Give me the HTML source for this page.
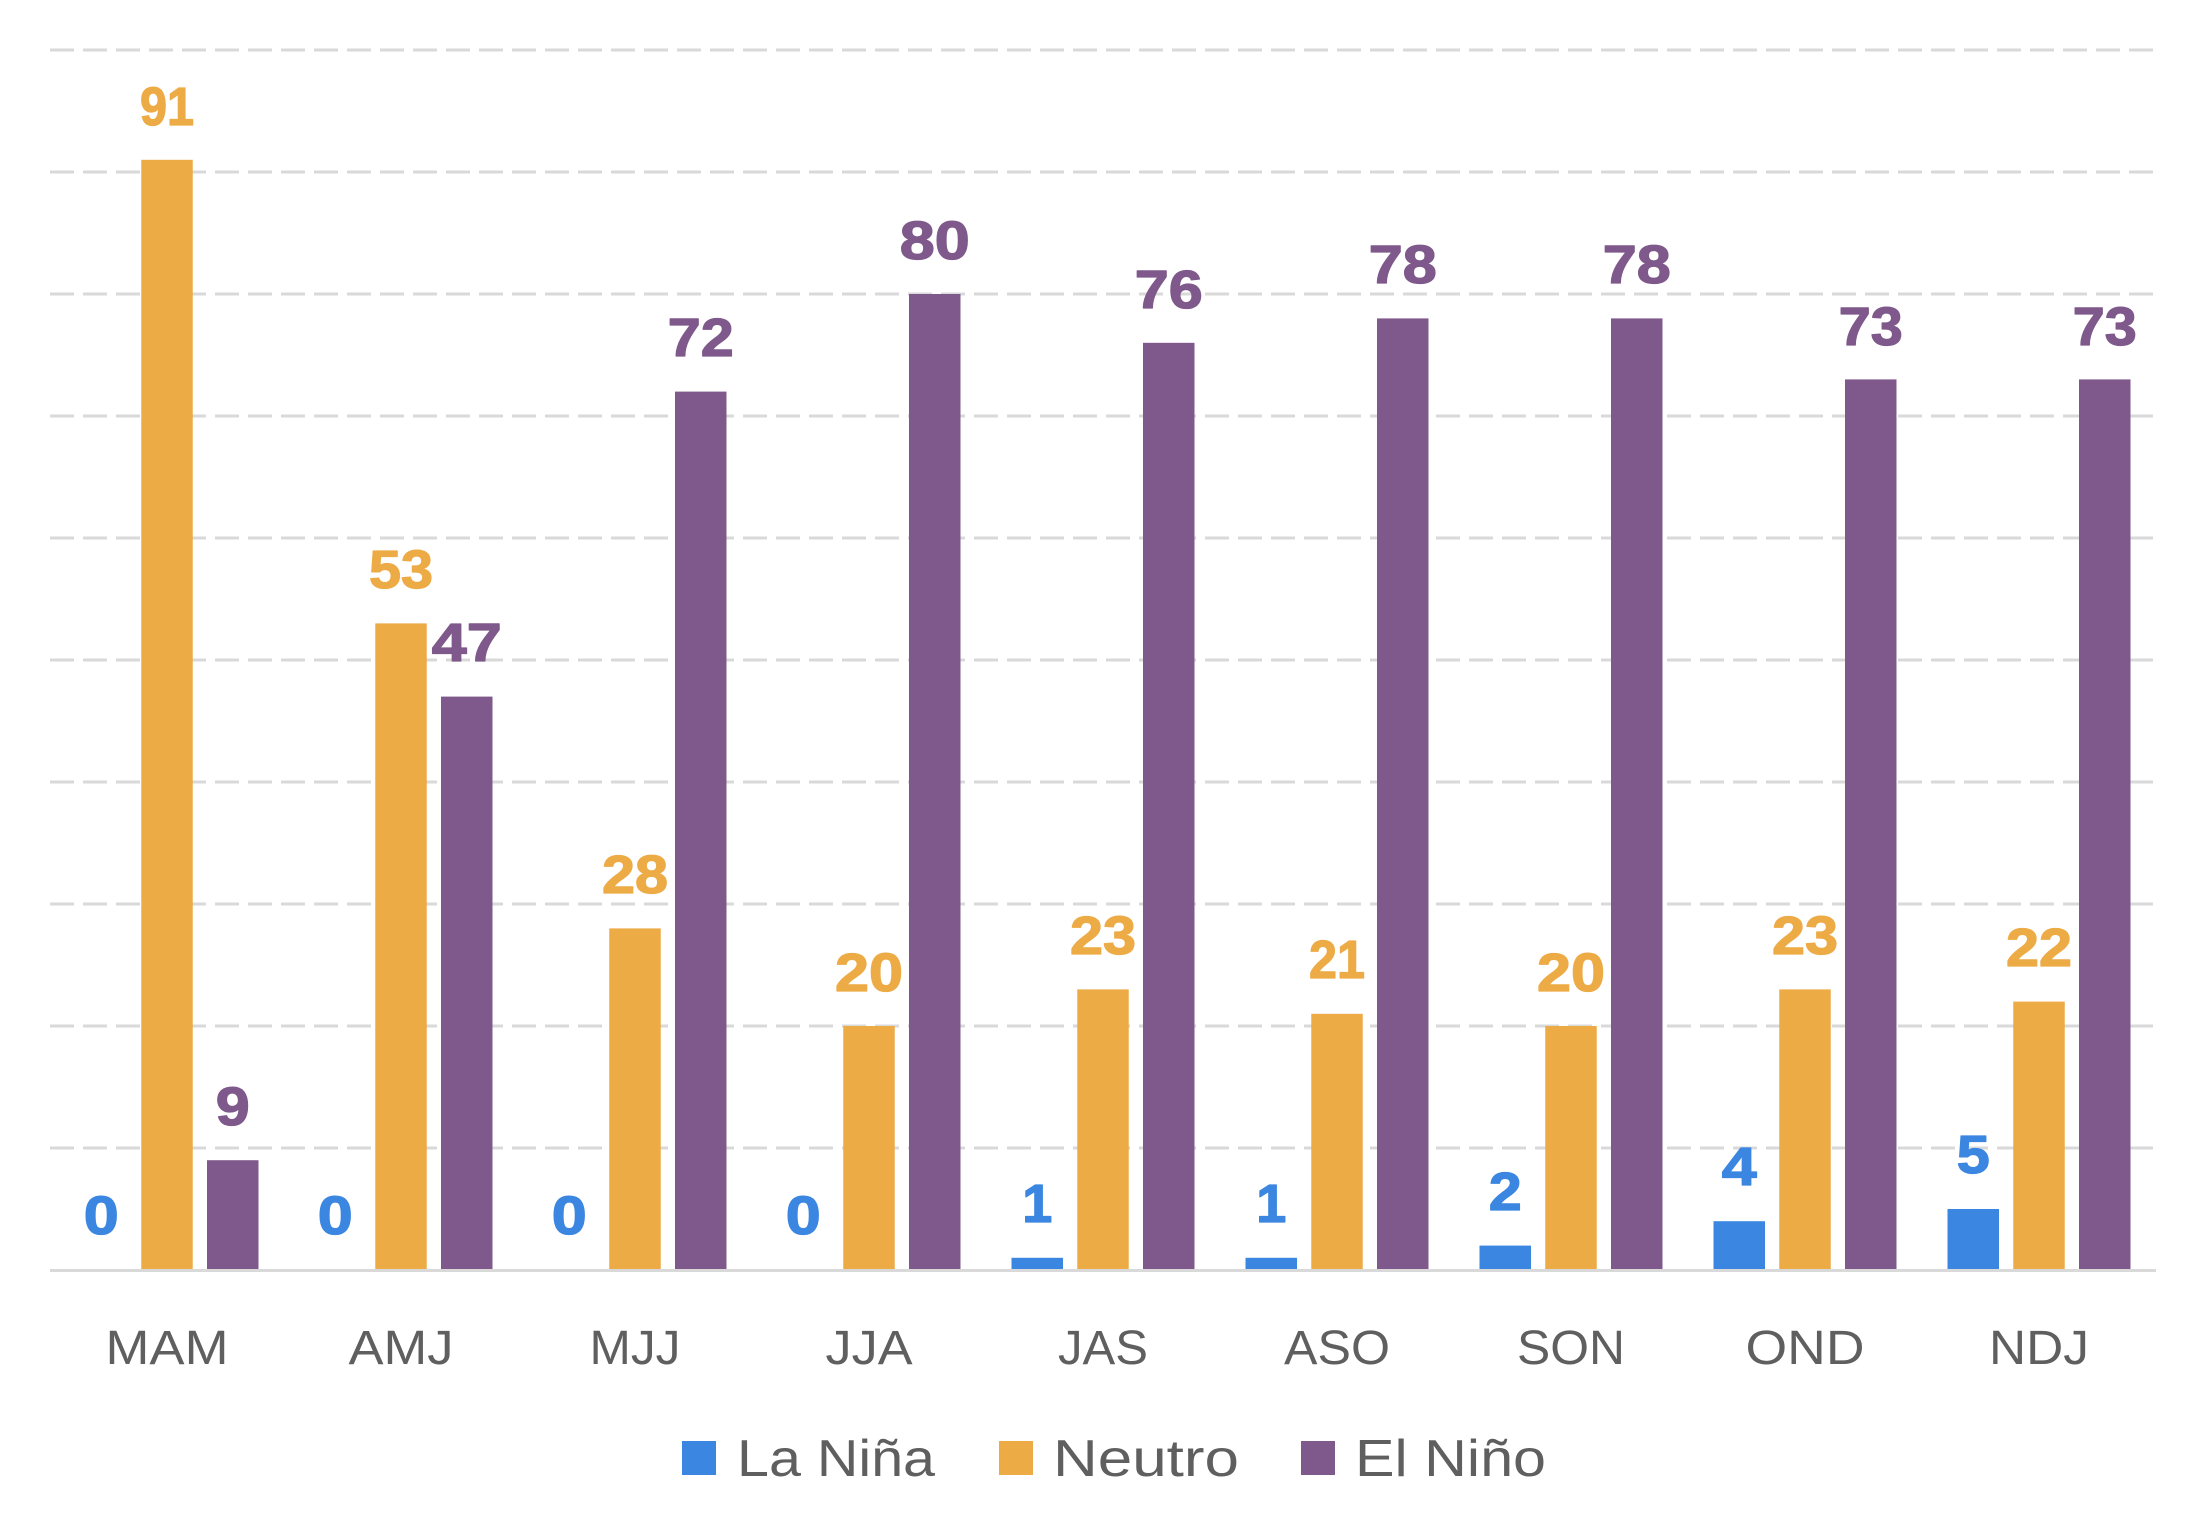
<!DOCTYPE html>
<html>
<head>
<meta charset="utf-8">
<style>
  html,body{margin:0;padding:0;background:#ffffff;}
  svg{display:block;}
  .v{font-family:"Liberation Sans",sans-serif;font-weight:bold;font-size:54px;text-anchor:middle;stroke-width:1.3px;stroke-linejoin:round;}
  .c{font-family:"Liberation Sans",sans-serif;font-size:48px;fill:#5f5f5f;text-anchor:middle;}
  .l{font-family:"Liberation Sans",sans-serif;font-size:52px;fill:#5f5f5f;}
</style>
</head>
<body>
<svg width="2207" height="1537" viewBox="0 0 2207 1537" xmlns="http://www.w3.org/2000/svg">
  <rect width="2207" height="1537" fill="#ffffff"/>
  <g stroke="#d9d9d9" stroke-width="3" stroke-dasharray="24 9" fill="none">
    <line x1="50" y1="50" x2="2156" y2="50"/>
    <line x1="50" y1="172" x2="2156" y2="172"/>
    <line x1="50" y1="294" x2="2156" y2="294"/>
    <line x1="50" y1="416" x2="2156" y2="416"/>
    <line x1="50" y1="538" x2="2156" y2="538"/>
    <line x1="50" y1="660" x2="2156" y2="660"/>
    <line x1="50" y1="782" x2="2156" y2="782"/>
    <line x1="50" y1="904" x2="2156" y2="904"/>
    <line x1="50" y1="1026" x2="2156" y2="1026"/>
    <line x1="50" y1="1148" x2="2156" y2="1148"/>
  </g>

  <!-- MAM c=167 -->
  <rect x="141.25" y="159.8" width="51.5" height="1110.2" fill="#edab46"/>
  <rect x="207" y="1160.2" width="51.5" height="109.8" fill="#7f598b"/>
  <!-- AMJ c=401 -->
  <rect x="375.25" y="623.4" width="51.5" height="646.6" fill="#edab46"/>
  <rect x="441" y="696.6" width="51.5" height="573.4" fill="#7f598b"/>
  <!-- MJJ c=635 -->
  <rect x="609.25" y="928.4" width="51.5" height="341.6" fill="#edab46"/>
  <rect x="675" y="391.6" width="51.5" height="878.4" fill="#7f598b"/>
  <!-- JJA c=869 -->
  <rect x="843.25" y="1026" width="51.5" height="244" fill="#edab46"/>
  <rect x="909" y="294" width="51.5" height="976" fill="#7f598b"/>
  <!-- JAS c=1103 -->
  <rect x="1011.5" y="1257.8" width="51.5" height="12.2" fill="#3a86e0"/>
  <rect x="1077.25" y="989.4" width="51.5" height="280.6" fill="#edab46"/>
  <rect x="1143" y="342.8" width="51.5" height="927.2" fill="#7f598b"/>
  <!-- ASO c=1337 -->
  <rect x="1245.5" y="1257.8" width="51.5" height="12.2" fill="#3a86e0"/>
  <rect x="1311.25" y="1013.8" width="51.5" height="256.2" fill="#edab46"/>
  <rect x="1377" y="318.4" width="51.5" height="951.6" fill="#7f598b"/>
  <!-- SON c=1571 -->
  <rect x="1479.5" y="1245.6" width="51.5" height="24.4" fill="#3a86e0"/>
  <rect x="1545.25" y="1026" width="51.5" height="244" fill="#edab46"/>
  <rect x="1611" y="318.4" width="51.5" height="951.6" fill="#7f598b"/>
  <!-- OND c=1805 -->
  <rect x="1713.5" y="1221.2" width="51.5" height="48.8" fill="#3a86e0"/>
  <rect x="1779.25" y="989.4" width="51.5" height="280.6" fill="#edab46"/>
  <rect x="1845" y="379.4" width="51.5" height="890.6" fill="#7f598b"/>
  <!-- NDJ c=2039 -->
  <rect x="1947.5" y="1209" width="51.5" height="61" fill="#3a86e0"/>
  <rect x="2013.25" y="1001.6" width="51.5" height="268.4" fill="#edab46"/>
  <rect x="2079" y="379.4" width="51.5" height="890.6" fill="#7f598b"/>

  <!-- axis -->
  <line x1="50" y1="1270.5" x2="2156" y2="1270.5" stroke="#d9d9d9" stroke-width="3"/>

  <!-- value labels -->
  <g class="v" fill="#3a86e0" stroke="#3a86e0">
    <text x="101.25" y="1234" textLength="35" lengthAdjust="spacingAndGlyphs">0</text>
    <text x="335.25" y="1234" textLength="35" lengthAdjust="spacingAndGlyphs">0</text>
    <text x="569.25" y="1234" textLength="35" lengthAdjust="spacingAndGlyphs">0</text>
    <text x="803.25" y="1234" textLength="35" lengthAdjust="spacingAndGlyphs">0</text>
    <text x="1037.25" y="1222">1</text>
    <text x="1271.25" y="1222">1</text>
    <text x="1505.25" y="1210" textLength="33" lengthAdjust="spacingAndGlyphs">2</text>
    <text x="1739.25" y="1185" textLength="35" lengthAdjust="spacingAndGlyphs">4</text>
    <text x="1973.25" y="1173" textLength="33" lengthAdjust="spacingAndGlyphs">5</text>
  </g>
  <g class="v" fill="#edab46" stroke="#edab46">
    <text x="167" y="125" textLength="54" lengthAdjust="spacingAndGlyphs">91</text>
    <text x="401" y="588" textLength="64" lengthAdjust="spacingAndGlyphs">53</text>
    <text x="635" y="893" textLength="66" lengthAdjust="spacingAndGlyphs">28</text>
    <text x="869" y="991" textLength="68" lengthAdjust="spacingAndGlyphs">20</text>
    <text x="1103" y="954" textLength="66" lengthAdjust="spacingAndGlyphs">23</text>
    <text x="1337" y="978" textLength="56" lengthAdjust="spacingAndGlyphs">21</text>
    <text x="1571" y="991" textLength="68" lengthAdjust="spacingAndGlyphs">20</text>
    <text x="1805" y="954" textLength="66" lengthAdjust="spacingAndGlyphs">23</text>
    <text x="2039" y="966" textLength="66" lengthAdjust="spacingAndGlyphs">22</text>
  </g>
  <g class="v" fill="#7f598b" stroke="#7f598b">
    <text x="232.75" y="1125" textLength="34" lengthAdjust="spacingAndGlyphs">9</text>
    <text x="466.75" y="661" textLength="70" lengthAdjust="spacingAndGlyphs">47</text>
    <text x="700.75" y="356" textLength="66" lengthAdjust="spacingAndGlyphs">72</text>
    <text x="934.75" y="259" textLength="70" lengthAdjust="spacingAndGlyphs">80</text>
    <text x="1168.75" y="308" textLength="68" lengthAdjust="spacingAndGlyphs">76</text>
    <text x="1402.75" y="283" textLength="68" lengthAdjust="spacingAndGlyphs">78</text>
    <text x="1636.75" y="283" textLength="68" lengthAdjust="spacingAndGlyphs">78</text>
    <text x="1870.75" y="345" textLength="64" lengthAdjust="spacingAndGlyphs">73</text>
    <text x="2104.75" y="345" textLength="64" lengthAdjust="spacingAndGlyphs">73</text>
  </g>

  <!-- category labels -->
  <g class="c">
    <text x="167" y="1364" textLength="123" lengthAdjust="spacingAndGlyphs">MAM</text>
    <text x="401" y="1364" textLength="105" lengthAdjust="spacingAndGlyphs">AMJ</text>
    <text x="635" y="1364" textLength="91" lengthAdjust="spacingAndGlyphs">MJJ</text>
    <text x="869" y="1364" textLength="87" lengthAdjust="spacingAndGlyphs">JJA</text>
    <text x="1103" y="1364" textLength="90" lengthAdjust="spacingAndGlyphs">JAS</text>
    <text x="1337" y="1364" textLength="106" lengthAdjust="spacingAndGlyphs">ASO</text>
    <text x="1571" y="1364" textLength="108" lengthAdjust="spacingAndGlyphs">SON</text>
    <text x="1805" y="1364" textLength="119" lengthAdjust="spacingAndGlyphs">OND</text>
    <text x="2039" y="1364" textLength="100" lengthAdjust="spacingAndGlyphs">NDJ</text>
  </g>

  <!-- legend -->
  <rect x="682" y="1441" width="34" height="34" fill="#3a86e0"/>
  <text class="l" x="737" y="1476" textLength="198" lengthAdjust="spacingAndGlyphs">La Niña</text>
  <rect x="999" y="1441" width="34" height="34" fill="#edab46"/>
  <text class="l" x="1053" y="1476" textLength="186" lengthAdjust="spacingAndGlyphs">Neutro</text>
  <rect x="1301" y="1441" width="34" height="34" fill="#7f598b"/>
  <text class="l" x="1355" y="1476" textLength="191" lengthAdjust="spacingAndGlyphs">El Niño</text>
</svg>
</body>
</html>
